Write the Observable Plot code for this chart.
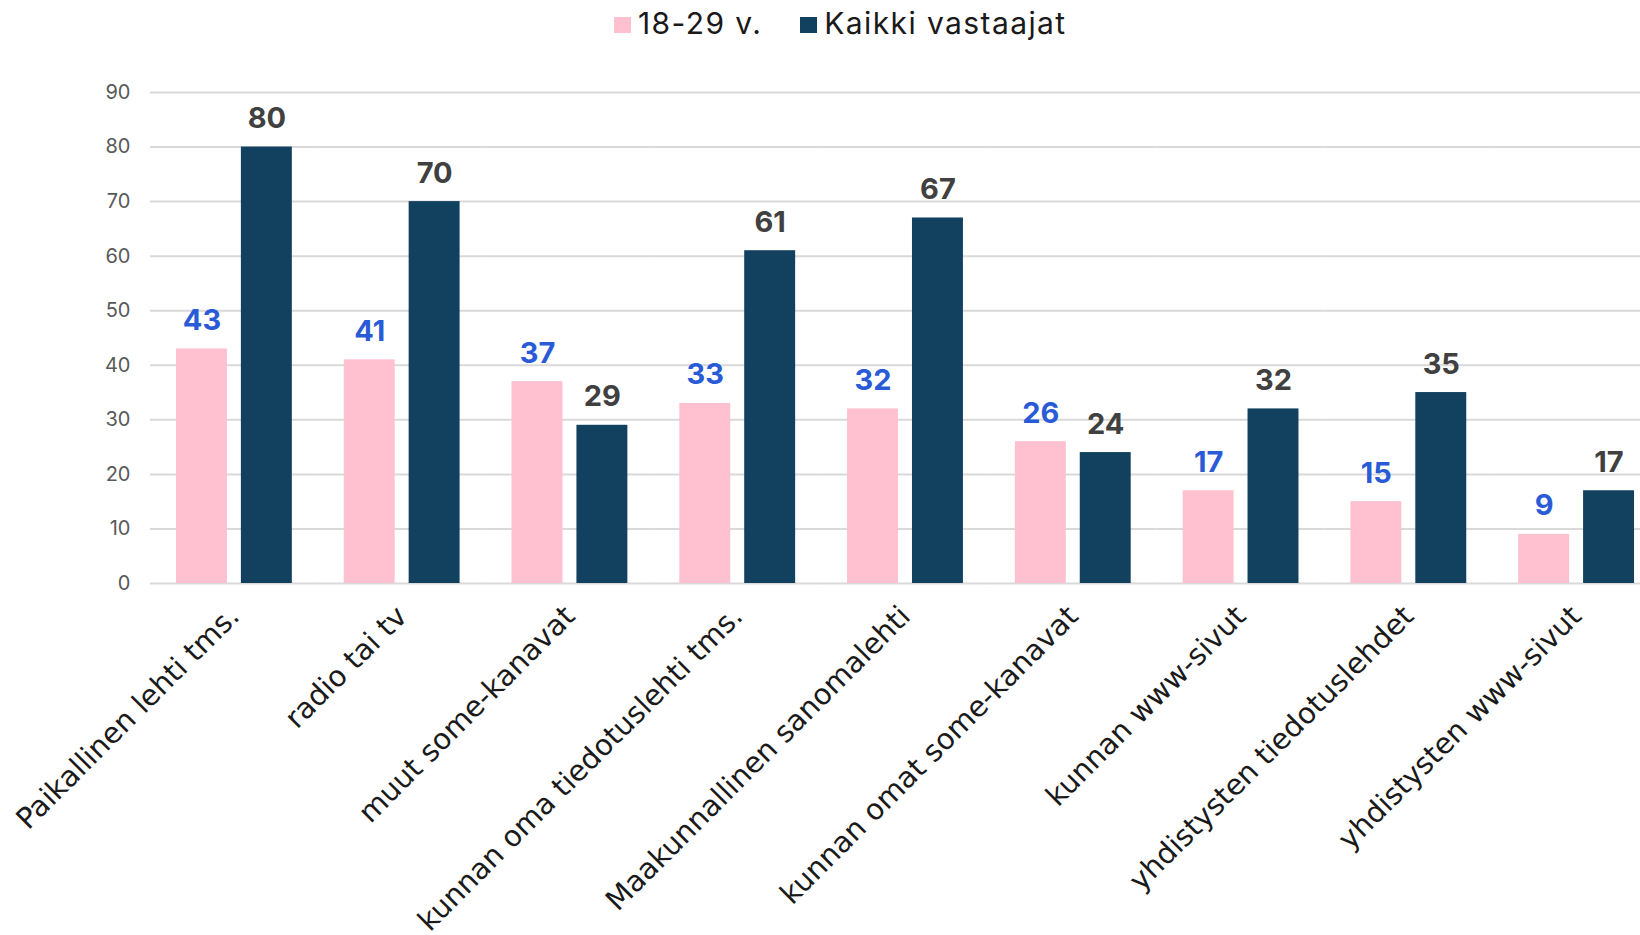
<!DOCTYPE html>
<html><head><meta charset="utf-8">
<script src="https://cdn.jsdelivr.net/npm/d3@7"></script>
<script src="https://cdn.jsdelivr.net/npm/@observablehq/plot@0.6"></script>
<style>
body{margin:0;background:#fff;}
#legend{position:relative;height:50px;font-family:Inter,sans-serif;font-size:30px;letter-spacing:1.4px;color:#1a1a1a;}
#legend .row{position:absolute;left:614px;top:0;height:50px;display:flex;align-items:center;}
#legend .sw{width:17px;height:16px;margin-right:7px;}
#legend .lab{margin-right:38px;line-height:1;position:relative;top:-2px;}
</style></head><body>
<div id="legend"><div class="row"></div></div>
<div id="chart"></div>
<script>
const categories = ["Paikallinen lehti tms.", "radio tai tv", "muut some-kanavat", "kunnan oma tiedotuslehti tms.", "Maakunnallinen sanomalehti", "kunnan omat some-kanavat", "kunnan www-sivut", "yhdistysten tiedotuslehdet", "yhdistysten www-sivut"];
const seriesNames = ["18-29 v.", "Kaikki vastaajat"];
const young = [43, 41, 37, 33, 32, 26, 17, 15, 9];
const allResp = [80, 70, 29, 61, 67, 24, 32, 35, 17];
const yTicks = [0, 10, 20, 30, 40, 50, 60, 70, 80, 90];
const barColors = ["#FFC0CF", "#12405F"];
const labelColors = ["#2A5BD7", "#404040"];

const data = categories.flatMap((c, i) => [
  {category: c, series: seriesNames[0], value: young[i]},
  {category: c, series: seriesNames[1], value: allResp[i]}
]);

const row = d3.select("#legend .row");
seriesNames.forEach((s, i) => {
  row.append("div").attr("class", "sw").style("background", barColors[i]);
  row.append("div").attr("class", "lab").text(s);
});

const chart = Plot.plot({
  width: 1640, height: 885,
  marginTop: 42, marginBottom: 352, marginLeft: 150, marginRight: -20,
  style: {fontFamily: "'DejaVu Sans', sans-serif", background: "#fff"},
  fx: {domain: categories, paddingInner: 0.3095, paddingOuter: 0.1548, round: false, label: null},
  x: {domain: seriesNames, paddingInner: 0.215, paddingOuter: 0, round: false, axis: null},
  y: {domain: [0, 90], axis: null},
  color: {domain: seriesNames, range: barColors},
  marks: [
    Plot.ruleY(yTicks, {y: d => d, stroke: "#d9d9d9", strokeWidth: 2, insetLeft: -26, insetRight: -26}),
    Plot.barY(data, {fx: "category", x: "series", y: "value", fill: "series"}),
    Plot.text(data.filter(d => d.series === seriesNames[0]), {fx: "category", x: "series", y: "value", text: d => String(d.value), dy: -19, lineAnchor: "bottom", fill: labelColors[0], fontSize: 29, fontWeight: 700, fontFamily: "Inter"}),
    Plot.text(data.filter(d => d.series === seriesNames[1]), {fx: "category", x: "series", y: "value", text: d => String(d.value), dy: -19, lineAnchor: "bottom", fill: labelColors[1], fontSize: 29, fontWeight: 700, fontFamily: "Inter"}),
    Plot.text(yTicks, {fx: () => categories[0], y: d => d, text: d => String(d), frameAnchor: "left", textAnchor: "end", dx: -46, fill: "#595959", fontSize: 20, fontFamily: "Inter"}),
    Plot.axisFx({anchor: "bottom", tickRotate: -45, tickSize: 0, tickPadding: 28, fontSize: 29, color: "#1a1a1a", label: null})
  ]
});
document.getElementById("chart").appendChild(chart);
</script>
</body></html>
